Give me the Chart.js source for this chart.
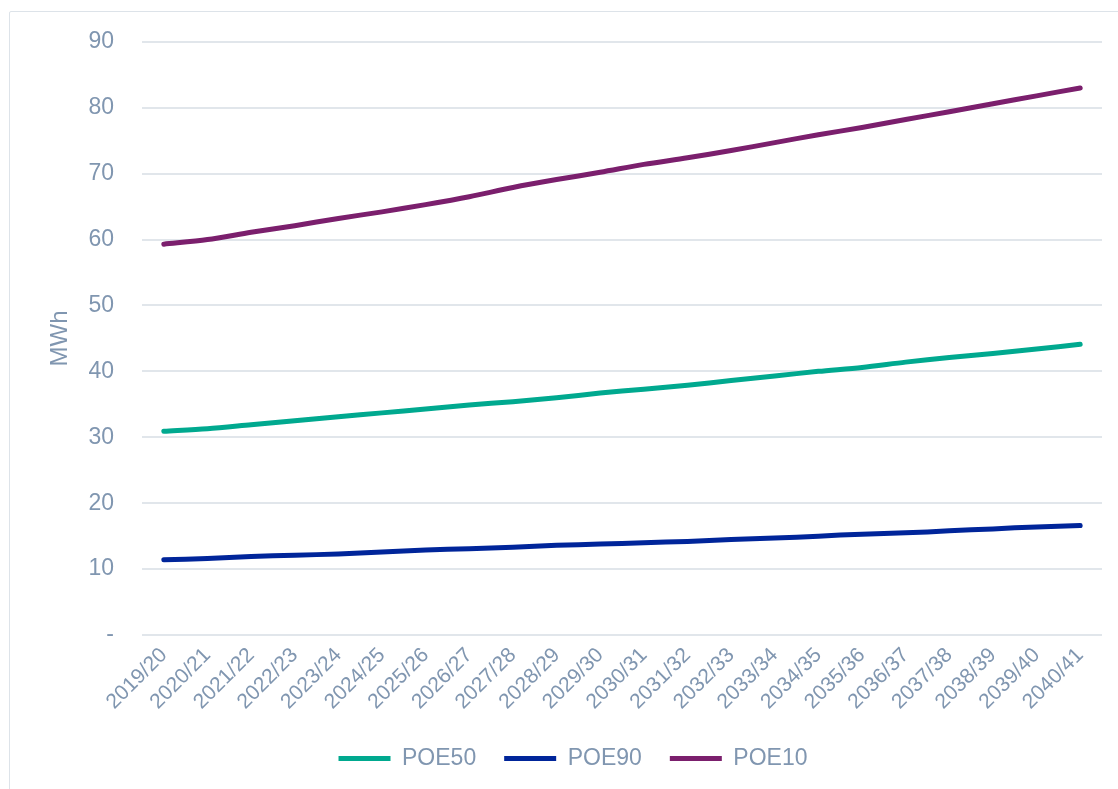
<!DOCTYPE html>
<html>
<head>
<meta charset="utf-8">
<script src="https://cdn.jsdelivr.net/npm/chart.js@4/dist/chart.umd.min.js"></script>
<style>
    html, body { margin: 0; padding: 0; background: #fff; }
    .frame {
        position: absolute;
        left: 9px; top: 11px;
        width: 1120px; height: 800px;
        border: 1.5px solid #dde3e9;
        border-radius: 2px;
        box-sizing: border-box;
    }
    .wrap { position: absolute; left: 0; top: 0; width: 1118px; height: 789px; }
</style>
</head>
<body>
<div class="frame"></div>
<div class="wrap"><canvas id="demandChart"></canvas></div>
<script>
const years = ['2019/20', '2020/21', '2021/22', '2022/23', '2023/24', '2024/25', '2025/26', '2026/27',
    '2027/28', '2028/29', '2029/30', '2030/31', '2031/32', '2032/33', '2033/34', '2034/35',
    '2035/36', '2036/37', '2037/38', '2038/39', '2039/40', '2040/41'];
const poe50 = [30.9, 31.3, 31.9, 32.5, 33.1, 33.7, 34.3, 34.9, 35.4, 36.0, 36.7,
    37.3, 37.9, 38.6, 39.3, 40.0, 40.6, 41.4, 42.1, 42.7, 43.4, 44.1];
const poe90 = [11.4, 11.6, 11.9, 12.1, 12.3, 12.6, 12.9, 13.1, 13.3, 13.6, 13.8,
    14.0, 14.2, 14.5, 14.7, 15.0, 15.3, 15.5, 15.8, 16.1, 16.4, 16.6];
const poe10 = [59.3, 60.0, 61.1, 62.1, 63.2, 64.2, 65.3, 66.5, 67.9, 69.1, 70.2,
    71.4, 72.4, 73.5, 74.7, 75.9, 77.0, 78.2, 79.4, 80.6, 81.8, 83.0];

const textColor = '#8096b0';
const gridColor = '#e1e6eb';
const font = 'Arial, "Liberation Sans", sans-serif';

function line(label, data, color) {
    return {
        label: label,
        data: data,
        borderColor: color,
        backgroundColor: color,
        borderWidth: 5,
        borderCapStyle: 'round',
        tension: 0.3,
        pointRadius: 0,
        fill: false
    };
}

const ctx = document.getElementById('demandChart').getContext('2d');
new Chart(ctx, {
    type: 'line',
    data: {
        labels: years,
        datasets: [
            line('POE50', poe50, '#00a98f'),
            line('POE90', poe90, '#00259a'),
            line('POE10', poe10, '#7b1f6d')
        ]
    },
    options: {
        responsive: true,
        maintainAspectRatio: false,
        animation: false,
        layout: { padding: { top: 28, right: 16, bottom: 9, left: 44 } },
        scales: {
            x: {
                offset: true,
                grid: { display: false, drawTicks: false },
                border: { display: false },
                ticks: {
                    color: textColor,
                    font: { family: font, size: 21 },
                    minRotation: 45,
                    maxRotation: 45,
                    autoSkip: false,
                    padding: 8
                },
                afterFit: function (scale) { scale.height = 84; }
            },
            y: {
                min: 0,
                max: 90,
                grid: { color: gridColor, lineWidth: 2, drawTicks: false },
                border: { display: false },
                ticks: {
                    stepSize: 10,
                    color: textColor,
                    font: { family: font, size: 23 },
                    padding: 28,
                    callback: function (v) { return v === 0 ? '-' : v; }
                },
                title: {
                    display: true,
                    text: 'MWh',
                    color: textColor,
                    font: { family: font, size: 24 },
                    padding: { top: 2, bottom: 0 }
                },
                afterFit: function (scale) { scale.width = 98; }
            }
        },
        plugins: {
            legend: {
                position: 'bottom',
                labels: {
                    color: textColor,
                    font: { family: font, size: 23 },
                    usePointStyle: true,
                    pointStyle: 'line',
                    pointStyleWidth: 52,
                    boxHeight: 5,
                    padding: 28
                }
            },
            tooltip: { enabled: false }
        }
    }
});
</script>
</body>
</html>
